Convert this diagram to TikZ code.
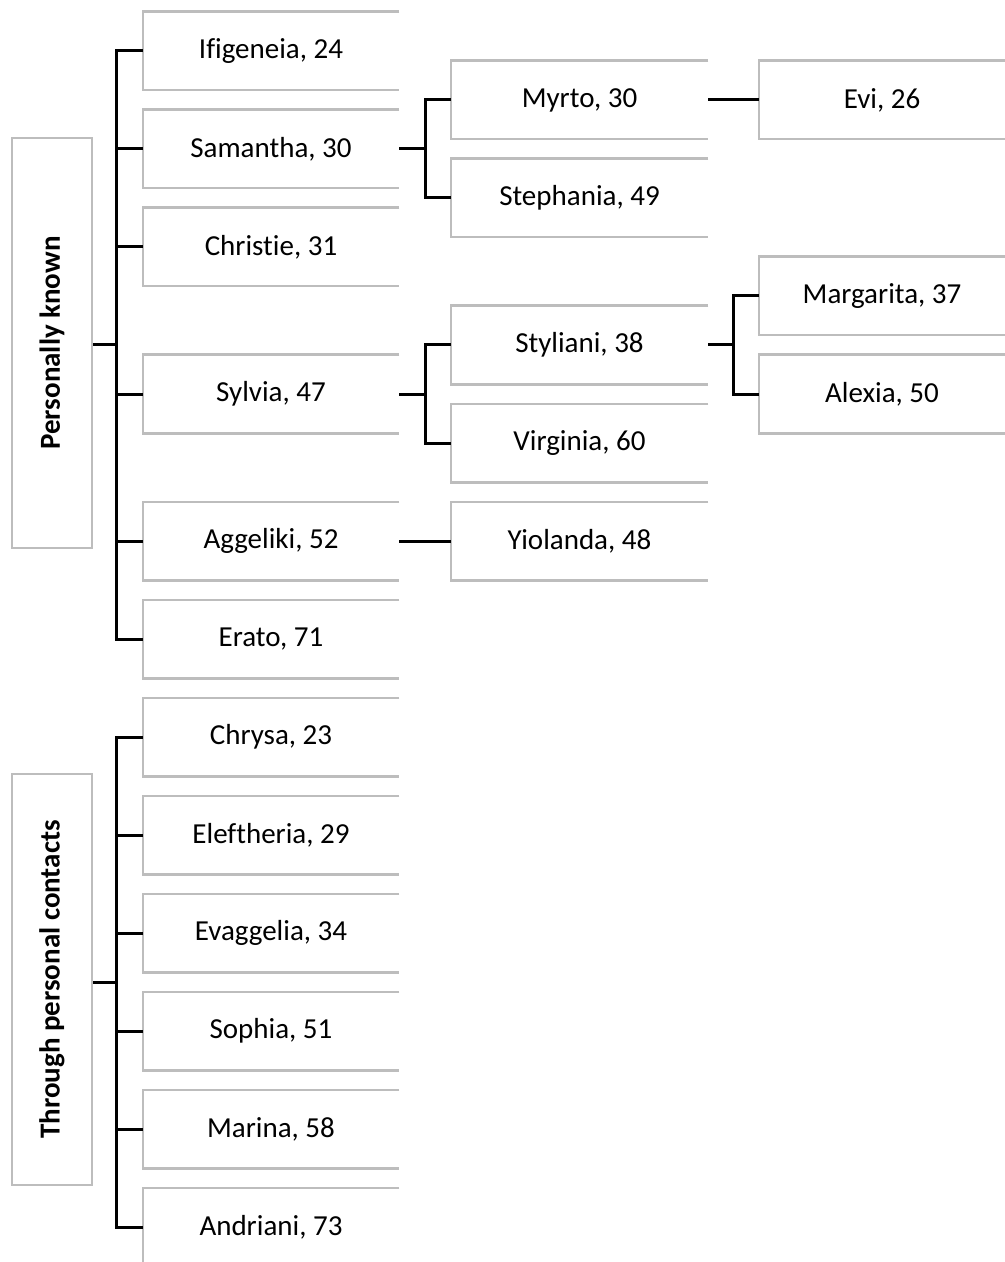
\documentclass[tikz,border=0pt]{standalone}
\usepackage{fontspec}
\setmainfont{Carlito}[Ligatures=NoCommon]
\begin{document}
\begin{tikzpicture}[x=0.5pt,y=-0.5pt,
  boxline/.style={draw=black!26, line width=1.1pt},
  person/.style={minimum width=128pt, minimum height=39pt, inner sep=0pt,
    font=\fontsize{14.5}{17}\selectfont},
  lab/.style={draw=black!26, line width=1.1pt, minimum height=40pt, inner sep=0pt, rotate=90,
    font=\fontsize{14.5}{17}\selectfont\bfseries},
  conn/.style={line width=1.5pt, black}]
\useasboundingbox (0,0) rectangle (1005,1262);
\clip (0,0) rectangle (1005,1262);
% labels
\node[lab, minimum width=205pt] (pk) at (52,343) {Personally known};
\node[lab, minimum width=205.5pt] (tpc) at (52,979.5) {Through personal contacts};
% column 1
\node[person] (ifi) at (271,51) {Ifigeneia, 24};
\node[person] (sam) at (271,149) {Samantha, 30};
\node[person] (chr) at (271,247) {Christie, 31};
\node[person] (syl) at (271,394) {Sylvia, 47};
\node[person] (agg) at (271,541) {Aggeliki, 52};
\node[person] (era) at (271,639) {Erato, 71};
\node[person] (chry) at (271,737) {Chrysa, 23};
\node[person] (ele) at (271,835) {Eleftheria, 29};
\node[person] (eva) at (271,933) {Evaggelia, 34};
\node[person] (sop) at (271,1031) {Sophia, 51};
\node[person] (mar) at (271,1129) {Marina, 58};
\node[person] (and) at (271,1227) {Andriani, 73};
% column 2
\node[person, minimum width=128.5pt] (myr) at (579.5,100) {Myrto, 30};
\node[person, minimum width=128.5pt] (ste) at (579.5,198) {Stephania, 49};
\node[person, minimum width=128.5pt] (sty) at (579.5,345) {Styliani, 38};
\node[person, minimum width=128.5pt] (vir) at (579.5,443) {Virginia, 60};
\node[person, minimum width=128.5pt] (yio) at (579.5,541) {Yiolanda, 48};
% column 3
\node[person, minimum width=123pt] (evi) at (882,100) {Evi, 26};
\node[person, minimum width=123pt] (marg) at (882,296) {Margarita, 37};
\node[person, minimum width=123pt] (ale) at (882,394) {Alexia, 50};
% box outlines (right side open)
\foreach \n in {ifi,sam,chr,syl,agg,era,chry,ele,eva,sop,mar,and,myr,ste,sty,vir,yio,evi,marg,ale}
  \draw[boxline] (\n.north east) -- (\n.north west) -- (\n.south west) -- (\n.south east);
% junctions
\coordinate (j1) at (116,345);
\coordinate (j2) at (116,982);
\coordinate (js) at (425,149);
\coordinate (jy) at (425,394);
\coordinate (jt) at (733,345);
% connectors
\draw[conn] (pk.south |- j1) -- (j1);
\foreach \n in {ifi,sam,chr,syl,agg,era} \draw[conn] (j1) |- (\n.west);
\draw[conn] (tpc.south |- j2) -- (j2);
\foreach \n in {chry,ele,eva,sop,mar,and} \draw[conn] (j2) |- (\n.west);
\draw[conn] (sam.east) -- (js);
\draw[conn] (js) |- (myr.west);
\draw[conn] (js) |- (ste.west);
\draw[conn] (syl.east) -- (jy);
\draw[conn] (jy) |- (sty.west);
\draw[conn] (jy) |- (vir.west);
\draw[conn] (agg.east) -- (yio.west);
\draw[conn] (myr.east) -- (evi.west);
\draw[conn] (sty.east) -- (jt);
\draw[conn] (jt) |- (marg.west);
\draw[conn] (jt) |- (ale.west);
\end{tikzpicture}
\end{document}
